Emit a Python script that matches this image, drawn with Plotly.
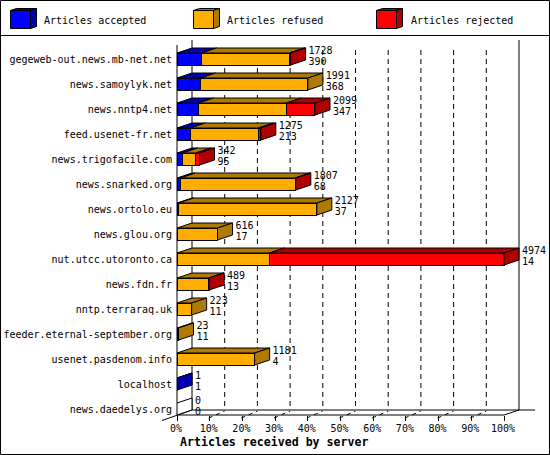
import plotly.graph_objects as go

servers = ['gegeweb-out.news.mb-net.net', 'news.samoylyk.net', 'news.nntp4.net',
           'feed.usenet-fr.net', 'news.trigofacile.com', 'news.snarked.org',
           'news.ortolo.eu', 'news.glou.org', 'nut.utcc.utoronto.ca', 'news.fdn.fr',
           'nntp.terraraq.uk', 'feeder.eternal-september.org', 'usenet.pasdenom.info',
           'localhost', 'news.daedelys.org']
accepted = [375, 360, 330, 203, 87, 50, 26, 0, 0, 0, 0, 0, 0, 1, 0]
refused = [1336, 1631, 1334, 1034, 198, 1745, 2101, 616, 1405, 482, 223, 23, 1181, 0, 0]
rejected = [17, 0, 435, 38, 57, 12, 0, 0, 3569, 7, 0, 0, 0, 0, 0]
totals = [1728, 1991, 2099, 1275, 342, 1807, 2127, 616, 4974, 489, 223, 23, 1181, 1, 0]
second = [390, 368, 347, 213, 95, 68, 37, 17, 14, 13, 11, 11, 4, 1, 0]
pct_ticks = [0, 10, 20, 30, 40, 50, 60, 70, 80, 90, 100]
series_names = ['Articles accepted', 'Articles refused', 'Articles rejected']

FONT = 'DejaVu Sans Mono'
front = ['#0000FF', '#FFAD00', '#FF0000']
dark = ['#0000B0', '#B07900', '#B00000']

# canvas is 550x455, plot area in pixels
W, H = 550, 455
L, R, T, B = 177, 540, 40, 415
PX_PER_PCT = 3.27
ROW = 25
X_DEPTH = 15 / PX_PER_PCT
Y_DEPTH = 5 / ROW
HALF = 0.24


def paper_x(p):
    return (p - L) / (R - L)


def paper_y(p):
    return (B - p) / (B - T)


def line(x0, y0, x1, y1, **kw):
    return dict(type='line', xref='paper', yref='paper', x0=paper_x(x0), y0=paper_y(y0),
                x1=paper_x(x1), y1=paper_y(y1), layer='below',
                line=dict(color='black', width=1, **kw))


def box(x0, y0, x1, y1, fill):
    return dict(type='rect', xref='paper', yref='paper', x0=paper_x(x0), y0=paper_y(y0),
                x1=paper_x(x1), y1=paper_y(y1), fillcolor=fill, layer='above',
                line=dict(color='black', width=1))


def quad(pts, fill):
    path = 'M ' + ' L '.join('%f,%f' % (paper_x(a), paper_y(b)) for a, b in pts) + ' Z'
    return dict(type='path', xref='paper', yref='paper', path=path, fillcolor=fill,
                layer='above', line=dict(color='black', width=1))


biggest = max(totals)
rows = list(range(len(servers)))
parts = [[v / biggest * 100 for v in s] for s in (accepted, refused, rejected)]
ends = [t / biggest * 100 for t in totals]

fig = go.Figure()

# front faces
for i, name in enumerate(series_names):
    fig.add_trace(go.Bar(y=rows, x=parts[i], orientation='h', name=name, width=HALF * 2,
                         marker=dict(color=front[i], line=dict(color='black', width=1)),
                         showlegend=False, hoverinfo='skip'))

# top faces, one trace per colour
for i in range(3):
    xs, ys = [], []
    for r in rows:
        start = sum(parts[k][r] for k in range(i))
        stop = start + parts[i][r]
        if parts[i][r] == 0:
            continue
        top = r - HALF
        xs += [start, stop, stop + X_DEPTH, start + X_DEPTH, start, None]
        ys += [top, top, top - Y_DEPTH, top - Y_DEPTH, top, None]
    fig.add_trace(go.Scatter(x=xs, y=ys, mode='lines', fill='toself', fillcolor=dark[i],
                             line=dict(color='black', width=1), showlegend=False,
                             hoverinfo='skip'))

# right side faces take the colour of the last non empty part
for i in range(4):
    xs, ys = [], []
    for r in rows:
        last = max([k for k in range(3) if parts[k][r] > 0], default=3)
        if last != i:
            continue
        e = ends[r]
        top, bot = r - HALF, r + HALF
        xs += [e, e + X_DEPTH, e + X_DEPTH, e, e, None]
        ys += [top, top - Y_DEPTH, bot - Y_DEPTH, bot, top, None]
    fig.add_trace(go.Scatter(x=xs, y=ys, mode='lines', fill='toself',
                             fillcolor=(dark + ['white'])[i],
                             line=dict(color='black', width=1), showlegend=False,
                             hoverinfo='skip'))

# value labels next to each bar
for vals, dy in ((totals, -8 / ROW), (second, 3 / ROW)):
    fig.add_trace(go.Scatter(x=[e + X_DEPTH + 0.9 for e in ends], y=[r + dy for r in rows],
                             mode='text', text=[str(v) for v in vals],
                             textposition='middle right', cliponaxis=False,
                             textfont=dict(family=FONT, size=10, color='black'),
                             showlegend=False, hoverinfo='skip'))

shapes = [
    line(0, 35.5, W, 35.5),
    line(L, 45, L, B),
    line(L, B, L + 100 * PX_PER_PCT, B),
    line(L + 15, 40, L + 15, 410),
    line(L + 100 * PX_PER_PCT + 15, 40, L + 100 * PX_PER_PCT + 15, 410),
    line(L + 15, 410, 535, 410),
    line(162, 420.5, L + 15, 410),
    line(L + 100 * PX_PER_PCT, B, L + 100 * PX_PER_PCT + 15, 410),
]
for t in pct_ticks[1:-1]:
    xf = L + t * PX_PER_PCT
    shapes.append(line(xf + 15, 50, xf + 15, 410, dash='5px,4px'))
    shapes.append(line(xf - 1, 418, xf + 15, 411, dash='4px,4px'))

# legend keys in the header strip
key_left = [10.5, 193.5, 376.5]
label_left = [44, 227, 411]
annotations = []
for i, name in enumerate(series_names):
    x0 = key_left[i]
    x1 = x0 + 20
    shapes.append(quad([(x0, 10.5), (x0 + 6, 8.5), (x1 + 6, 8.5), (x1, 10.5)], dark[i]))
    shapes.append(quad([(x1, 10.5), (x1 + 6, 8.5), (x1 + 6, 26.5), (x1, 28.5)], dark[i]))
    shapes.append(box(x0, 10.5, x1, 28.5, front[i]))
    annotations.append(dict(text=name, xref='paper', yref='paper', x=paper_x(label_left[i]),
                            y=paper_y(20), xanchor='left', yanchor='middle', showarrow=False,
                            xshift=-2, font=dict(family=FONT, size=10, color='black')))

annotations.append(dict(text='<b>Articles received by server</b>', xref='paper', yref='paper',
                        x=paper_x(274), y=paper_y(442), xanchor='center', yanchor='middle',
                        showarrow=False, font=dict(family=FONT, size=11.6, color='black')))
# outer frame
shapes.append(dict(type='rect', xref='paper', yref='paper', x0=paper_x(0.5), y0=paper_y(0.5),
                   x1=paper_x(W - 0.5), y1=paper_y(H - 0.5), layer='below',
                   line=dict(color='black', width=1)))

layout = go.Layout(
    width=W,
    height=H,
    barmode='stack',
    showlegend=False,
    paper_bgcolor='white',
    plot_bgcolor='white',
    margin=dict(l=L, r=W - R, t=T, b=H - B, pad=0),
    xaxis=dict(range=[0, (R - L) / PX_PER_PCT], tickmode='array', tickvals=pct_ticks,
               ticktext=['%d%%' % t for t in pct_ticks], ticks='outside', ticklen=5,
               tickcolor='black', tickwidth=1, showgrid=False, zeroline=False, showline=False,
               automargin=False, ticklabelshift=-1, ticklabelstandoff=-1,
               tickfont=dict(family=FONT, size=10, color='black')),
    yaxis=dict(range=[(B - 59) / ROW, (T - 59) / ROW], tickmode='array', tickvals=rows,
               ticktext=servers, ticks='', ticklabelstandoff=4, showgrid=False, zeroline=False,
               showline=False, automargin=False,
               tickfont=dict(family=FONT, size=10, color='black')),
    shapes=shapes,
    annotations=annotations,
)
fig.update_layout(layout)
fig.write_html('out.html', post_script="document.body.style.margin='0';",
               config=dict(displayModeBar=False))
